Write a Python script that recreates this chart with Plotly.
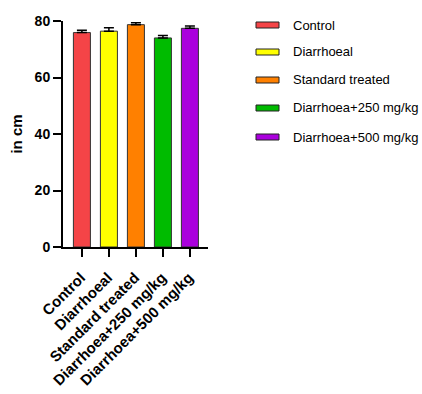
import plotly.graph_objects as go

categories = ["Control", "Diarrhoeal", "Standard treated", "Diarrhoea+250 mg/kg", "Diarrhoea+500 mg/kg"]
values = [75.9, 76.4, 78.7, 74.0, 77.4]
errors = [0.8, 1.2, 0.7, 0.9, 0.8]
colors = ["#F44447", "#FFFF00", "#FF8000", "#00BB00", "#AA00DD"]
y_ticks = [0, 20, 40, 60, 80]

W, H = 422, 394
FONT = "Arial, Liberation Sans, sans-serif"

fig = go.Figure()
fig.add_trace(go.Bar(
    x=categories, y=values,
    marker=dict(color=colors, line=dict(color="#333333", width=1)),
    width=0.63,
    error_y=dict(type="data", array=errors, arrayminus=[0]*len(errors), symmetric=False,
                 color="black", thickness=1.5, width=5),
    showlegend=False,
))

# manual legend (wide flat swatches like the original), in page-fraction coordinates
legend_y = [25, 52, 80, 108, 137]
for cat, col, ly in zip(categories, colors, legend_y):
    fig.add_shape(type="rect", xref="paper", yref="paper",
                  x0=256 / W, x1=279 / W, y0=1 - (ly - 3) / H, y1=1 - (ly + 3) / H,
                  fillcolor=col, line=dict(color="#222222", width=1))
    fig.add_annotation(xref="paper", yref="paper", x=291 / W, y=1 - ly / H,
                       text=cat, showarrow=False, xanchor="left", yanchor="middle",
                       font=dict(family=FONT, size=13, color="black"))

fig.update_layout(
    width=W, height=H,
    margin=dict(l=0, r=0, t=0, b=0, autoexpand=False),
    plot_bgcolor="white", paper_bgcolor="white",
    font=dict(family=FONT, color="black"),
)
fig.update_xaxes(
    domain=[63 / W, 208 / W],
    range=[-0.70, 4.67], showline=True, linecolor="black", linewidth=2,
    ticks="outside", ticklen=8, tickwidth=2, tickcolor="black",
    tickangle=-45, tickfont=dict(size=15, family=FONT, weight="bold"),
    ticklabelshift=-1, ticklabelstandoff=6,
    showgrid=False, zeroline=False, automargin=False,
)
fig.update_yaxes(
    domain=[1 - 247 / H, 1 - 21 / H],
    range=[0, 80], tickvals=y_ticks, showline=True, linecolor="black", linewidth=2,
    ticks="outside", ticklen=8, tickwidth=2, tickcolor="black",
    tickfont=dict(size=14, family=FONT, weight="bold"),
    title=dict(text="in cm", font=dict(size=15, family=FONT, weight="bold"), standoff=8),
    showgrid=False, zeroline=False, automargin=False,
)

fig.write_html("out.html", config={"displayModeBar": False},
               post_script="document.body.style.margin='0';document.body.style.overflow='hidden';")
